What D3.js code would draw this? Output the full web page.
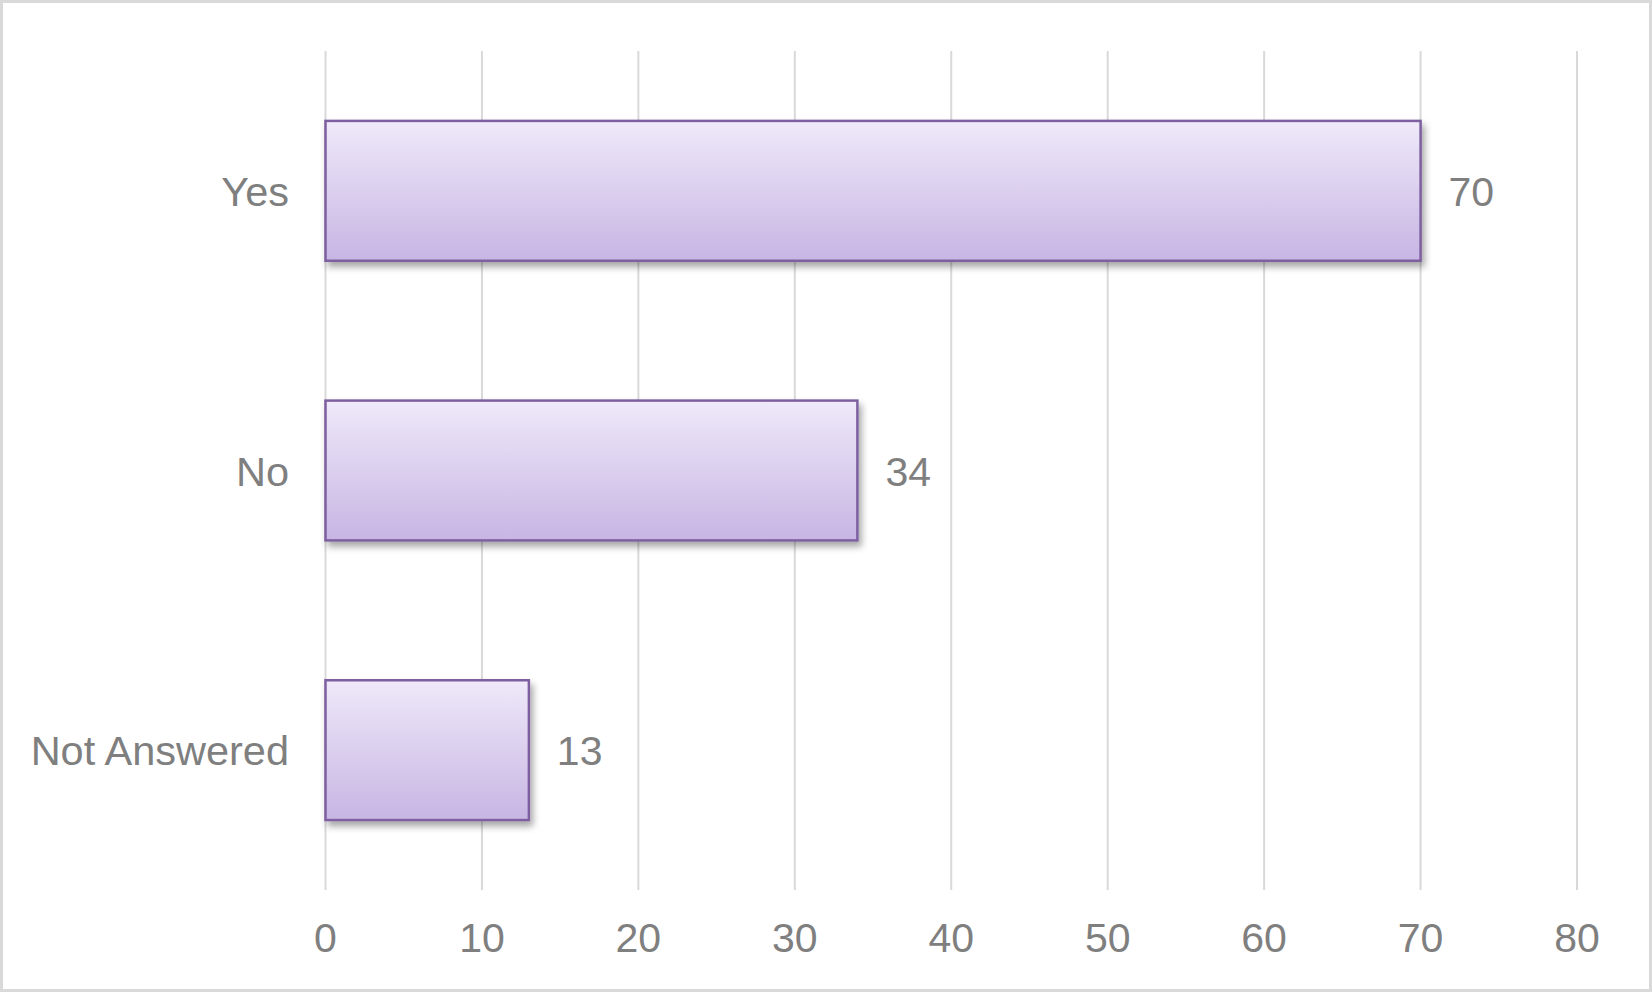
<!DOCTYPE html>
<html>
<head>
<meta charset="utf-8">
<script src="https://cdn.jsdelivr.net/npm/d3@7/dist/d3.min.js"></script>
<style>
  html, body { margin: 0; padding: 0; background: #ffffff; }
  svg { display: block; }
  text { font-family: "Liberation Sans", Arial, sans-serif; fill: #7f7f7f; }
</style>
</head>
<body>
<script>
const categories = ["Yes", "No", "Not Answered"];
const values = [70, 34, 13];
const tickValues = [0, 10, 20, 30, 40, 50, 60, 70, 80];

const W = 1652, H = 992;
const svg = d3.select("body").append("svg").attr("width", W).attr("height", H);

const defs = svg.append("defs");
const grad = defs.append("linearGradient").attr("id", "barGrad")
  .attr("x1", 0).attr("y1", 0).attr("x2", 0).attr("y2", 1);
grad.append("stop").attr("offset", "0%").attr("stop-color", "#efe9f9");
grad.append("stop").attr("offset", "100%").attr("stop-color", "#c7b5e3");
const filt = defs.append("filter").attr("id", "shadow")
  .attr("x", "-10%").attr("y", "-10%").attr("width", "130%").attr("height", "130%");
filt.append("feDropShadow").attr("dx", 3).attr("dy", 5).attr("stdDeviation", 3.5)
  .attr("flood-color", "#000").attr("flood-opacity", 0.35);

// frame
svg.append("rect").attr("x", 1.5).attr("y", 1.5).attr("width", W - 3).attr("height", H - 3)
  .attr("fill", "#fff").attr("stroke", "#d9d9d9").attr("stroke-width", 3);

const x = d3.scaleLinear().domain([0, 80]).range([325.5, 1577]);
const y = d3.scaleBand().domain(categories).range([51, 890]).paddingInner(0.5).paddingOuter(0.25);

// gridlines
svg.append("g").selectAll("line").data(tickValues).join("line")
  .attr("x1", d => x(d)).attr("x2", d => x(d))
  .attr("y1", 51).attr("y2", 890)
  .attr("stroke", "#d9d9d9").attr("stroke-width", 2);

// x tick labels
svg.append("g").selectAll("text").data(tickValues).join("text")
  .attr("x", d => x(d)).attr("y", 952)
  .attr("text-anchor", "middle")
  .attr("font-size", 41)
  .text(d => d);

// category labels
svg.append("g").selectAll("text").data(categories).join("text")
  .attr("x", 289).attr("y", d => y(d) + y.bandwidth() / 2 + 15)
  .attr("text-anchor", "end")
  .attr("font-size", 41.5)
  .text(d => d);

const data = categories.map((c, i) => ({ c, v: values[i] }));

// bars
svg.append("g").selectAll("rect").data(data).join("rect")
  .attr("x", x(0)).attr("y", d => y(d.c))
  .attr("width", d => x(d.v) - x(0))
  .attr("height", y.bandwidth())
  .attr("fill", "url(#barGrad)")
  .attr("stroke", "#7e60a0").attr("stroke-width", 2.5)
  .attr("filter", "url(#shadow)");

// value labels
svg.append("g").selectAll("text").data(data).join("text")
  .attr("x", d => x(d.v) + 28).attr("y", d => y(d.c) + y.bandwidth() / 2 + 15)
  .attr("text-anchor", "start")
  .attr("font-size", 41)
  .text(d => d.v);
</script>
</body>
</html>
